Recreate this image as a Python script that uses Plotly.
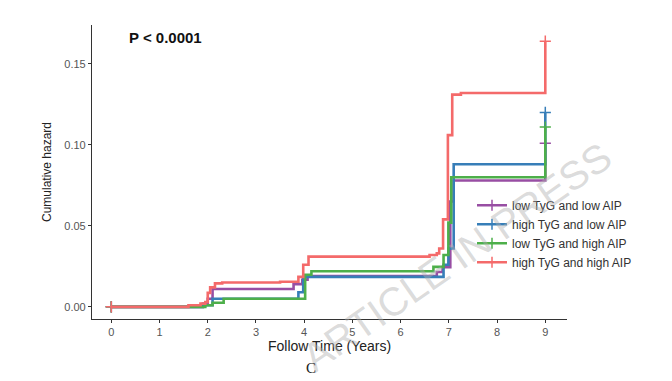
import plotly.graph_objects as go

# ---- data ----
group_names = ["low TyG and low AIP", "high TyG and low AIP",
               "low TyG and high AIP", "high TyG and high AIP"]
group_colors = ["#984EA3", "#377EB8", "#4DAF4A", "#F46A6A"]

time_lowtyg_lowaip = [0, 1.9, 2.0, 2.1, 3.78, 3.96, 4.07, 6.75, 6.87, 7.03, 7.1, 9.0]
chaz_lowtyg_lowaip = [0, 0.002, 0.005, 0.011, 0.014, 0.0167, 0.019, 0.0215, 0.0245, 0.065, 0.078, 0.101]

time_hightyg_lowaip = [0, 1.9, 2.1, 3.88, 3.98, 6.89, 6.99, 7.1, 9.0]
chaz_hightyg_lowaip = [0, 0.001, 0.005, 0.009, 0.0185, 0.026, 0.036, 0.088, 0.120]

time_lowtyg_highaip = [0, 1.95, 2.1, 2.33, 4.02, 4.15, 6.68, 6.89, 6.99, 7.05, 9.0]
chaz_lowtyg_highaip = [0, 0.001, 0.0025, 0.005, 0.0198, 0.022, 0.0247, 0.032, 0.052, 0.080, 0.111]

time_hightyg_highaip = [0, 1.6, 1.85, 1.95, 2.0, 2.05, 2.15, 2.3, 3.5, 3.88, 3.98, 4.09,
                        6.6, 6.75, 6.8, 6.88, 6.98, 7.07, 7.25, 9.0]
chaz_hightyg_highaip = [0, 0.001, 0.002, 0.003, 0.0086, 0.012, 0.0145, 0.015, 0.0155, 0.0185,
                        0.026, 0.031, 0.032, 0.033, 0.036, 0.054, 0.106, 0.131, 0.132, 0.164]

x_ticks = [0, 1, 2, 3, 4, 5, 6, 7, 8, 9]
y_ticks = [0.00, 0.05, 0.10, 0.15]
y_tick_labels = ["0.00", "0.05", "0.10", "0.15"]

series_times = [time_lowtyg_lowaip, time_hightyg_lowaip, time_lowtyg_highaip, time_hightyg_highaip]
series_chaz = [chaz_lowtyg_lowaip, chaz_hightyg_lowaip, chaz_lowtyg_highaip, chaz_hightyg_highaip]

fig = go.Figure()
for name, color, t, c in zip(group_names, group_colors, series_times, series_chaz):
    censored = [0, len(t) - 1]
    fig.add_trace(go.Scatter(
        x=t, y=c, name=name, mode="lines+markers",
        line=dict(color=color, width=2.6, shape="hv"),
        marker=dict(symbol="cross-thin", size=8, color=color,
                    line=dict(color=color, width=1.5)),
        selectedpoints=censored,
        selected=dict(marker=dict(opacity=1)),
        unselected=dict(marker=dict(opacity=0)),
    ))

axis_common = dict(
    showgrid=False, zeroline=False, showline=True, linecolor="#333333", linewidth=1.2,
    ticks="outside", ticklen=3, tickwidth=1, tickcolor="#333333",
    tickfont=dict(family="Liberation Sans, Arial, sans-serif", size=11, color="#555555"),
)

fig.update_layout(
    width=664, height=373,
    margin=dict(l=84, r=105, t=17, b=62),
    paper_bgcolor="white", plot_bgcolor="white",
    font=dict(family="Liberation Sans, Arial, sans-serif", color="#222222"),
    xaxis=dict(range=[-0.4, 9.45], tickvals=x_ticks, **axis_common),
    yaxis=dict(range=[-0.0075, 0.174], tickvals=y_ticks, ticktext=y_tick_labels,
               title=dict(text="Cumulative hazard", standoff=10,
                          font=dict(size=12, color="#222222")),
               **axis_common),
    legend=dict(x=0.80, y=0.29, xanchor="left", yanchor="middle",
                bgcolor="rgba(0,0,0,0)", font=dict(size=12, color="#333333")),
    showlegend=True,
)

fig.add_annotation(text="Follow Time (Years)", xref="paper", yref="paper",
                   x=0.499, y=-0.092, xanchor="center", yanchor="middle",
                   showarrow=False, font=dict(size=14, color="#222222"))

fig.add_annotation(text="<b>P < 0.0001</b>", xref="paper", yref="paper",
                   x=0.154, y=0.959, xanchor="center", yanchor="middle",
                   showarrow=False, font=dict(size=15, color="#111111"))

fig.add_annotation(text="ARTICLE IN PRESS", xref="paper", yref="paper",
                   x=0.768, y=0.21, xanchor="center", yanchor="middle",
                   textangle=-35, showarrow=False,
                   font=dict(size=40, color="rgba(175,175,175,0.45)",
                             family="Liberation Sans, Arial, sans-serif"))

fig.add_annotation(text="C", xref="paper", yref="paper",
                   x=0.46, y=-0.165, xanchor="center", yanchor="middle",
                   showarrow=False,
                   font=dict(size=15, color="#222222", family="Liberation Serif, serif"))

fig.write_html("out.html")
